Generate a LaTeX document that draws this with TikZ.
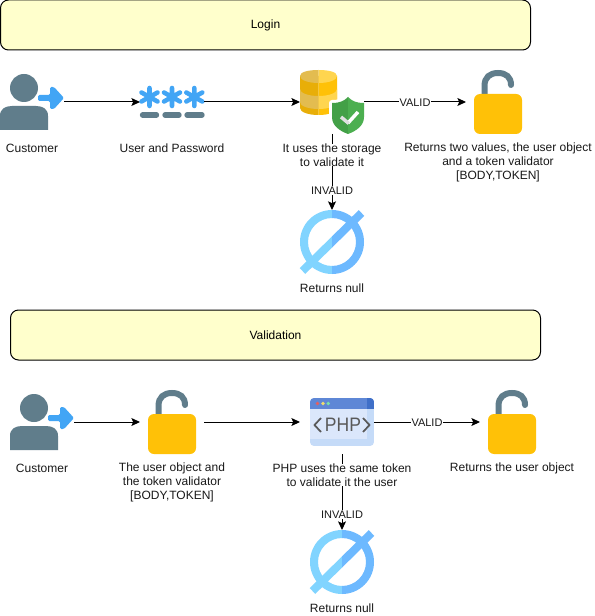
\documentclass[tikz,border=0pt]{standalone}
\usepackage{fontspec}
\setmainfont{Liberation Sans}
\usetikzlibrary{arrows.meta}
\definecolor{slateicon}{HTML}{607D8B}
\definecolor{blueicon}{HTML}{42A5F5}
\definecolor{amber}{HTML}{FFC107}
\definecolor{amberdk}{HTML}{E8AE08}
\definecolor{amberlt}{HTML}{FFD54F}
\definecolor{amberltdk}{HTML}{E3BC50}
\definecolor{nulllt}{HTML}{81D4FF}
\definecolor{nulldk}{HTML}{6DB9FF}
\definecolor{boxfill}{HTML}{FFFFCC}
\definecolor{shieldlt}{HTML}{4CAF50}
\definecolor{shielddk}{HTML}{43A047}
\definecolor{phpedge}{HTML}{C5DBF8}
\definecolor{phpbody}{HTML}{DBE7FB}
\definecolor{phpbar}{HTML}{5E87D6}
\definecolor{phpbardk}{HTML}{3F6FC8}
\definecolor{dotred}{HTML}{E55F5F}
\definecolor{dotyellow}{HTML}{F0DC6E}
\definecolor{dotgreen}{HTML}{78E1AA}
\tikzset{
  x=0.75pt,y=-0.75pt,
  banner/.style={draw=black,fill=boxfill,rounded corners=6pt,line width=0.75pt,minimum width=397.5pt,minimum height=37.5pt,inner sep=0pt,font=\fontsize{9}{10.5}\selectfont},
  iconbox/.style={minimum width=48pt,minimum height=48pt,inner sep=0pt,outer sep=0pt},
  caption/.style={align=center,inner sep=0pt,fill=white,font=\fontsize{9}{10.5}\selectfont,text=black!90},
  edgelabel/.style={fill=white,inner sep=0.6pt,yshift=-0.5pt,font=\fontsize{8.25}{9.5}\selectfont,text=black!90},
  flow/.style={draw=black,line width=0.75pt,-{Stealth[length=6.5pt,width=6pt,inset=1.4pt]}}
}
\newcommand{\usericon}[2]{\begin{scope}[shift={(#1,#2)}]
  \fill[slateicon] (24,15) circle (14);
  \fill[slateicon] (0,57) -- (0,43) .. controls (0,36) and (5,33) .. (12,33) -- (36,33) .. controls (43,33) and (48,36) .. (48,43) -- (48,57) -- cycle;
  \draw[white,line width=1.5pt,line join=round] (39,25) -- (51,25) -- (51,14) -- (64,25) -- (51,36) -- (51,25);
  \fill[blueicon,rounded corners=1pt] (38,22) -- (50,22) -- (50,14) -- (54,14) -- (64,25) -- (54,36) -- (50,36) -- (50,28) -- (38,28) -- cycle;
\end{scope}}
\newcommand{\keyicon}[2]{\begin{scope}[shift={(#1,#2)}]
  \foreach \cx in {9.5,32,54.3}{
    \draw[blueicon,line width=3.4pt,line cap=round] (\cx,-9) -- (\cx,9) (\cx-8,-4.5) -- (\cx+8,4.5) (\cx-8,4.5) -- (\cx+8,-4.5);
  }
  \foreach \lft/\rgt in {2.5/16.5,25/39,47/62}{
    \draw[slateicon,line width=4pt,line cap=round] (\lft,18) -- (\rgt,18);
  }
\end{scope}}
\newcommand{\storageicon}[2]{\begin{scope}[shift={(#1,#2)}]
  \fill[amberdk] (0,6) -- (0,38) .. controls (0,42) and (8,45) .. (18.5,45) -- (18.5,6) -- cycle;
  \fill[amber] (18.5,6) -- (18.5,45) .. controls (29,45) and (37,42) .. (37,38) -- (37,6) -- cycle;
  \fill[amberltdk] (0,6) .. controls (0,2) and (8,0) .. (18.5,0) -- (18.5,13) .. controls (8,13) and (0,10) .. (0,6) -- cycle;
  \fill[amberlt] (37,6) .. controls (37,2) and (29,0) .. (18.5,0) -- (18.5,13) .. controls (29,13) and (37,10) .. (37,6) -- cycle;
  \fill[amberltdk] (0,19) .. controls (0,23) and (8,26) .. (18.5,26) -- (18.5,39) .. controls (8,39) and (0,36) .. (0,32) -- cycle;
  \fill[amberlt] (37,19) .. controls (37,23) and (29,26) .. (18.5,26) -- (18.5,39) .. controls (29,39) and (37,36) .. (37,32) -- cycle;
  \path[draw=white,fill=white,line width=4.5pt,line join=round] (32,33) .. controls (40,33) and (44,31) .. (48,27) .. controls (52,31) and (56,33) .. (64,33) -- (64,47) .. controls (64,56) and (56,61) .. (48,64) .. controls (40,61) and (32,56) .. (32,47) -- cycle;
  \fill[shielddk] (32,33) .. controls (40,33) and (44,31) .. (48,27) -- (48,64) .. controls (40,61) and (32,56) .. (32,47) -- cycle;
  \fill[shieldlt] (64,33) .. controls (56,33) and (52,31) .. (48,27) -- (48,64) .. controls (56,61) and (64,56) .. (64,47) -- cycle;
  \draw[white,line width=2.6pt] (48,53) -- (58,42);
  \draw[black!12,line width=2.6pt] (41,47) -- (48.8,53.5);
\end{scope}}
\newcommand{\lockicon}[2]{\begin{scope}[shift={(#1,#2)}]
  \draw[slateicon,line width=4.5pt,line cap=round] (10.5,26) -- (10.5,16) .. controls (10.5,7) and (16,3) .. (24,3) .. controls (32,3) and (37,7) .. (37,15);
  \fill[amber,rounded corners=4.5pt] (0,24) rectangle (48,64);
\end{scope}}
\newcommand{\nullicon}[2]{\begin{scope}[shift={(#1,#2)}]
  \begin{scope}
    \clip (-40,-40) rectangle (0,40);
    \fill[nulllt,even odd rule] (0,0) circle (32) (0,0) circle (24);
    \draw[nulllt,line width=6pt] (-29.5,29) -- (29.5,-29);
  \end{scope}
  \begin{scope}
    \clip (0,-40) rectangle (40,40);
    \fill[nulldk,even odd rule] (0,0) circle (32) (0,0) circle (24);
    \draw[nulldk,line width=6pt] (-29.5,29) -- (29.5,-29);
  \end{scope}
\end{scope}}
\newcommand{\phpicon}[2]{\begin{scope}[shift={(#1,#2)}]
  \begin{scope}
    \clip[rounded corners=3pt] (0,0) rectangle (64,48);
    \fill[phpedge] (0,0) rectangle (64,48);
    \fill[phpbody] (0,0) rectangle (57,41);
    \fill[phpbar] (0,0) rectangle (64,11);
    \fill[phpbardk] (57,0) rectangle (64,11);
  \end{scope}
  \fill[dotred] (7.5,5.5) circle (1.9);
  \fill[dotyellow] (13,5.5) circle (1.9);
  \fill[dotgreen] (18.3,5.5) circle (1.9);
  \draw[black!65,line width=1.3pt] (11,20) -- (4.5,27) -- (11,34);
  \draw[black!65,line width=1.3pt] (53,20) -- (59.5,27) -- (53,34);
  \node[inner sep=0pt,xscale=0.9,text=black!65,font=\fontsize{14.6}{15}\selectfont] (phptext) at (33,27) {PHP};
\end{scope}}
\begin{document}
\begin{tikzpicture}
\useasboundingbox (0,0) rectangle (594,616);
\fill[white] (0,0) rectangle (594,616);

\node[banner] (loginbar) at (265.5,25) {\raisebox{-0.6pt}{Login}};
\node[banner] (validbar) at (275.5,335) {\raisebox{-0.4pt}{Validation}};

% icon anchors, row one
\node[iconbox] (cust1) at (32,102) {};
\node[iconbox] (keys) at (172,102) {};
\node[iconbox] (store) at (332,102) {};
\node[iconbox] (lock1) at (498,102) {};
\node[iconbox] (null1) at (332,242) {};
% icon anchors, row two
\node[iconbox] (cust2) at (42,422) {};
\node[iconbox] (lock2) at (172,422) {};
\node[iconbox] (php) at (342,422) {};
\node[iconbox] (lock3) at (512,422) {};
\node[iconbox] (null2) at (342,562) {};
\coordinate (phpin) at (300,422);

\usericon{0}{73}
\keyicon{140}{97}
\storageicon{300}{70}
\lockicon{474}{70}
\nullicon{332}{242}
\usericon{10}{393}
\lockicon{148}{390}
\phpicon{310}{398}
\lockicon{488}{390}
\nullicon{342}{562}

% connectors
\draw[flow] (cust1) -- (keys);
\draw[flow] (keys) -- (store);
\draw[flow] (store) -- node[edgelabel,pos=0.5] (lv1) {VALID} (lock1);
\draw[flow] (store) -- (null1);
\draw[flow] (cust2) -- (lock2);
\draw[flow] (lock2) -- (phpin);
\draw[flow] (php) -- node[edgelabel,pos=0.5] (lv2) {VALID} (lock3);
\draw[flow] (php) -- (null2);

% captions
\node[caption] (t1) at (32,148) {Customer};
\node[caption] (t2) at (172,148) {User and Password};
\node[caption] (t3) at (332,155) {It uses the storage\\to validate it};
\node[caption] (t4) at (498,162) {Returns two values, the user object\\and a token validator\\{[BODY,TOKEN]}};
\node[edgelabel] (li1) at (332,190) {INVALID};
\node[caption] (t5) at (332,288) {Returns null};
\node[caption] (t6) at (42,468) {Customer};
\node[caption] (t7) at (172,482) {The user object and\\the token validator\\{[BODY,TOKEN]}};
\node[caption] (t8) at (342,475) {PHP uses the same token\\to validate it the user};
\node[caption] (t9) at (512,468) {Returns the user object};
\node[edgelabel] (li2) at (342,514) {INVALID};
\node[caption] (t10) at (342,608) {Returns null};
\end{tikzpicture}
\end{document}
